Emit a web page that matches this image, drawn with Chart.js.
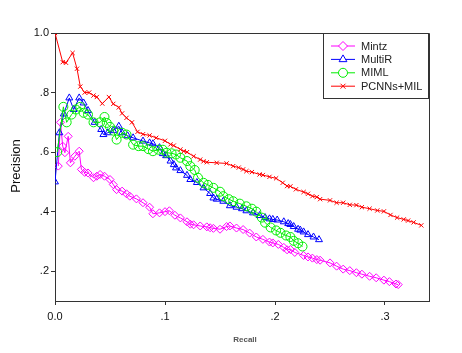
<!DOCTYPE html>
<html>
<head>
<meta charset="utf-8">
<script src="https://cdn.jsdelivr.net/npm/chart.js@4/dist/chart.umd.min.js"></script>
<style>
  html, body { margin: 0; padding: 0; background: #fff; }
  #wrap { width: 462px; height: 353px; position: relative; }
</style>
</head>
<body>
<div id="wrap"><canvas id="prCurve"></canvas></div>
<script>
// recall / precision pairs
var mintzRecall = [0.003, 0.005, 0.007, 0.009, 0.012, 0.014, 0.018, 0.022, 0.024, 0.027, 0.030, 0.035, 0.038, 0.041, 0.045, 0.050, 0.053, 0.056, 0.061, 0.065, 0.068, 0.074, 0.080, 0.086, 0.089, 0.095, 0.100, 0.104, 0.109, 0.114, 0.120, 0.123, 0.126, 0.132, 0.138, 0.141, 0.144, 0.150, 0.156, 0.159, 0.165, 0.171, 0.177, 0.183, 0.189, 0.195, 0.198, 0.203, 0.208, 0.211, 0.214, 0.218, 0.226, 0.230, 0.234, 0.238, 0.241, 0.250, 0.256, 0.262, 0.268, 0.274, 0.279, 0.286, 0.292, 0.299, 0.304, 0.310, 0.312];
var mintzPrecision = [0.553, 0.700, 0.620, 0.598, 0.653, 0.564, 0.586, 0.603, 0.542, 0.532, 0.530, 0.514, 0.519, 0.525, 0.519, 0.508, 0.491, 0.474, 0.469, 0.460, 0.452, 0.443, 0.430, 0.415, 0.393, 0.396, 0.400, 0.403, 0.388, 0.379, 0.366, 0.358, 0.356, 0.352, 0.349, 0.346, 0.344, 0.341, 0.350, 0.352, 0.345, 0.340, 0.328, 0.315, 0.307, 0.298, 0.295, 0.290, 0.280, 0.272, 0.273, 0.263, 0.253, 0.248, 0.244, 0.239, 0.237, 0.228, 0.217, 0.207, 0.202, 0.195, 0.190, 0.183, 0.178, 0.170, 0.165, 0.157, 0.155];

var multirRecall = [0.000, 0.004, 0.008, 0.013, 0.017, 0.022, 0.026, 0.030, 0.036, 0.042, 0.044, 0.048, 0.053, 0.058, 0.061, 0.066, 0.071, 0.080, 0.086, 0.089, 0.095, 0.098, 0.101, 0.105, 0.108, 0.110, 0.114, 0.120, 0.123, 0.129, 0.135, 0.141, 0.144, 0.147, 0.153, 0.159, 0.165, 0.170, 0.174, 0.180, 0.186, 0.191, 0.195, 0.198, 0.202, 0.208, 0.212, 0.214, 0.217, 0.221, 0.223, 0.226, 0.230, 0.235, 0.240];
var multirPrecision = [0.500, 0.665, 0.728, 0.782, 0.743, 0.782, 0.765, 0.740, 0.700, 0.676, 0.659, 0.665, 0.672, 0.687, 0.665, 0.655, 0.648, 0.637, 0.631, 0.628, 0.615, 0.595, 0.588, 0.570, 0.558, 0.547, 0.538, 0.522, 0.508, 0.498, 0.480, 0.461, 0.446, 0.442, 0.435, 0.420, 0.415, 0.410, 0.403, 0.396, 0.387, 0.380, 0.376, 0.374, 0.372, 0.366, 0.360, 0.357, 0.350, 0.341, 0.338, 0.332, 0.323, 0.315, 0.306];

var mimlRecall = [0.002, 0.0076, 0.0106, 0.015, 0.019, 0.023, 0.026, 0.030, 0.035, 0.041, 0.045, 0.047, 0.050, 0.053, 0.056, 0.061, 0.065, 0.071, 0.076, 0.080, 0.085, 0.089, 0.094, 0.098, 0.1015, 0.106, 0.110, 0.114, 0.120, 0.123, 0.127, 0.130, 0.135, 0.139, 0.144, 0.150, 0.153, 0.158, 0.162, 0.168, 0.174, 0.179, 0.183, 0.188, 0.191, 0.196, 0.201, 0.205, 0.210, 0.214, 0.217, 0.221, 0.225];
var mimlPrecision = [0.600, 0.752, 0.700, 0.726, 0.743, 0.752, 0.732, 0.726, 0.700, 0.700, 0.718, 0.698, 0.685, 0.672, 0.642, 0.665, 0.659, 0.625, 0.620, 0.620, 0.610, 0.603, 0.608, 0.608, 0.598, 0.596, 0.592, 0.581, 0.570, 0.553, 0.540, 0.514, 0.497, 0.490, 0.480, 0.467, 0.452, 0.442, 0.435, 0.427, 0.418, 0.410, 0.400, 0.380, 0.363, 0.347, 0.337, 0.329, 0.320, 0.315, 0.302, 0.294, 0.283];

var pcnnRecall = [0.000, 0.007, 0.010, 0.016, 0.020, 0.023, 0.027, 0.031, 0.035, 0.038, 0.043, 0.049, 0.053, 0.058, 0.061, 0.065, 0.070, 0.075, 0.080, 0.086, 0.092, 0.100, 0.105, 0.108, 0.114, 0.117, 0.120, 0.126, 0.132, 0.135, 0.138, 0.147, 0.156, 0.162, 0.167, 0.171, 0.174, 0.179, 0.186, 0.189, 0.195, 0.201, 0.207, 0.211, 0.214, 0.219, 0.226, 0.230, 0.234, 0.238, 0.241, 0.250, 0.256, 0.262, 0.268, 0.274, 0.279, 0.286, 0.293, 0.299, 0.305, 0.311, 0.317, 0.321, 0.326, 0.333];
var pcnnPrecision = [1.000, 0.902, 0.900, 0.933, 0.880, 0.820, 0.800, 0.800, 0.790, 0.785, 0.763, 0.785, 0.762, 0.750, 0.730, 0.715, 0.700, 0.668, 0.660, 0.656, 0.648, 0.638, 0.626, 0.622, 0.609, 0.603, 0.600, 0.586, 0.575, 0.569, 0.566, 0.564, 0.562, 0.553, 0.548, 0.542, 0.536, 0.533, 0.525, 0.523, 0.517, 0.512, 0.497, 0.486, 0.485, 0.475, 0.466, 0.460, 0.452, 0.449, 0.442, 0.438, 0.430, 0.430, 0.423, 0.422, 0.415, 0.410, 0.404, 0.401, 0.389, 0.380, 0.374, 0.370, 0.364, 0.354];

var xTicks = [0, 0.1, 0.2, 0.3];
var yTicks = [0.2, 0.4, 0.6, 0.8, 1.0];

function pairs(xs, ys) {
    return xs.map(function (x, i) { return { x: x, y: ys[i] }; });
}

function fmtTick(v) {
    if (v === 0) return '0.0';
    if (v === 1) return '1.0';
    return '.' + Math.round(v * 10);
}

var font = 'Arial, "Liberation Sans", sans-serif';

// legend box sits in the top right corner of the frame
var legendBox = {
    id: 'legendBox',
    afterDraw: function (chart) {
        var ctx = chart.ctx;
        var area = chart.chartArea;
        var w = 106, h = 66;
        var left = area.right - w, top = area.top;
        ctx.save();
        ctx.fillStyle = '#fff';
        ctx.fillRect(left, top, w, h);
        ctx.strokeStyle = '#333';
        ctx.lineWidth = 1;
        ctx.strokeRect(left + 0.5, top + 0.5, w - 1, h - 1);
        ctx.font = '11px ' + font;
        ctx.textBaseline = 'middle';
        chart.data.datasets.forEach(function (ds, i) {
            var y = top + 13 + i * 13.4;
            ctx.strokeStyle = ds.borderColor;
            ctx.lineWidth = 1;
            ctx.beginPath();
            ctx.moveTo(left + 8, y);
            ctx.lineTo(left + 32, y);
            ctx.stroke();
            ctx.fillStyle = '#fff';
            Chart.helpers.drawPoint(ctx, {
                pointStyle: ds.pointStyle,
                radius: ds.pointStyle === 'crossRot' ? 3.5 : 4.5,
                rotation: 0,
                borderWidth: 1
            }, left + 20, y);
            ctx.fillStyle = '#222';
            ctx.fillText(ds.label, left + 38, y + 0.5);
        });
        ctx.restore();
    }
};

// frame on top and right, plus axis titles
var frame = {
    id: 'frame',
    afterDatasetsDraw: function (chart) {
        var ctx = chart.ctx;
        var a = chart.chartArea;
        ctx.save();
        ctx.strokeStyle = '#333';
        ctx.lineWidth = 1;
        ctx.beginPath();
        ctx.moveTo(a.left, a.top + 0.5);
        ctx.lineTo(a.right + 0.5, a.top + 0.5);
        ctx.lineTo(a.right + 0.5, a.bottom);
        ctx.stroke();
        ctx.restore();
    },
    afterDraw: function (chart) {
        var ctx = chart.ctx;
        ctx.save();
        ctx.fillStyle = '#111';
        ctx.textAlign = 'center';
        ctx.textBaseline = 'middle';
        ctx.font = '13px ' + font;
        ctx.translate(16, 166);
        ctx.rotate(-Math.PI / 2);
        ctx.fillText('Precision', 0, 0);
        ctx.restore();
        ctx.save();
        ctx.fillStyle = '#555';
        ctx.textAlign = 'center';
        ctx.textBaseline = 'middle';
        ctx.font = 'bold 8px ' + font;
        ctx.fillText('Recall', 245, 340);
        ctx.restore();
    }
};

var ctxPr = document.getElementById('prCurve').getContext('2d');
new Chart(ctxPr, {
    type: 'line',
    data: {
        datasets: [
            {
                label: 'Mintz',
                data: pairs(mintzRecall, mintzPrecision),
                borderColor: '#ff00ff',
                pointBorderColor: '#ff00ff',
                pointBackgroundColor: 'rgba(255,255,255,0)',
                pointStyle: 'rectRot',
                pointRadius: 4,
                borderWidth: 1,
                order: 4
            },
            {
                label: 'MultiR',
                data: pairs(multirRecall, multirPrecision),
                borderColor: '#0000ff',
                pointBorderColor: '#0000ff',
                pointBackgroundColor: 'rgba(255,255,255,0)',
                pointStyle: 'triangle',
                pointRadius: 4,
                borderWidth: 1,
                order: 3
            },
            {
                label: 'MIML',
                data: pairs(mimlRecall, mimlPrecision),
                borderColor: '#00ee00',
                pointBorderColor: '#00ee00',
                pointBackgroundColor: 'rgba(255,255,255,0)',
                pointStyle: 'circle',
                pointRadius: 4.5,
                borderWidth: 1,
                order: 2
            },
            {
                label: 'PCNNs+MIL',
                data: pairs(pcnnRecall, pcnnPrecision),
                borderColor: '#ff0000',
                pointBorderColor: '#ff0000',
                pointBackgroundColor: 'rgba(255,255,255,0)',
                pointStyle: 'crossRot',
                pointRadius: 3,
                borderWidth: 1,
                order: 1
            }
        ]
    },
    options: {
        responsive: true,
        maintainAspectRatio: false,
        animation: false,
        layout: {
            padding: { left: 0, right: 33, top: 33, bottom: 0 }
        },
        plugins: {
            legend: { display: false },
            tooltip: { enabled: false }
        },
        elements: {
            line: { tension: 0 }
        },
        scales: {
            x: {
                type: 'linear',
                min: 0,
                max: 0.34,
                afterBuildTicks: function (scale) {
                    scale.ticks = xTicks.map(function (v) { return { value: v }; });
                },
                afterFit: function (scale) { scale.height = 52; },
                ticks: {
                    callback: fmtTick,
                    padding: 5,
                    color: '#111',
                    font: { family: font, size: 11 },
                    maxRotation: 0
                },
                grid: { drawOnChartArea: false, tickLength: 4, color: '#333' },
                border: { color: '#333', width: 1 }
            },
            y: {
                type: 'linear',
                min: 0.1,
                max: 1.0,
                afterBuildTicks: function (scale) {
                    scale.ticks = yTicks.map(function (v) { return { value: v }; });
                },
                afterFit: function (scale) { scale.width = 55; },
                ticks: {
                    callback: fmtTick,
                    padding: 2,
                    color: '#111',
                    font: { family: font, size: 11 }
                },
                grid: { drawOnChartArea: false, tickLength: 4, color: '#333' },
                border: { color: '#333', width: 1 }
            }
        }
    },
    plugins: [legendBox, frame]
});
</script>
</body>
</html>
